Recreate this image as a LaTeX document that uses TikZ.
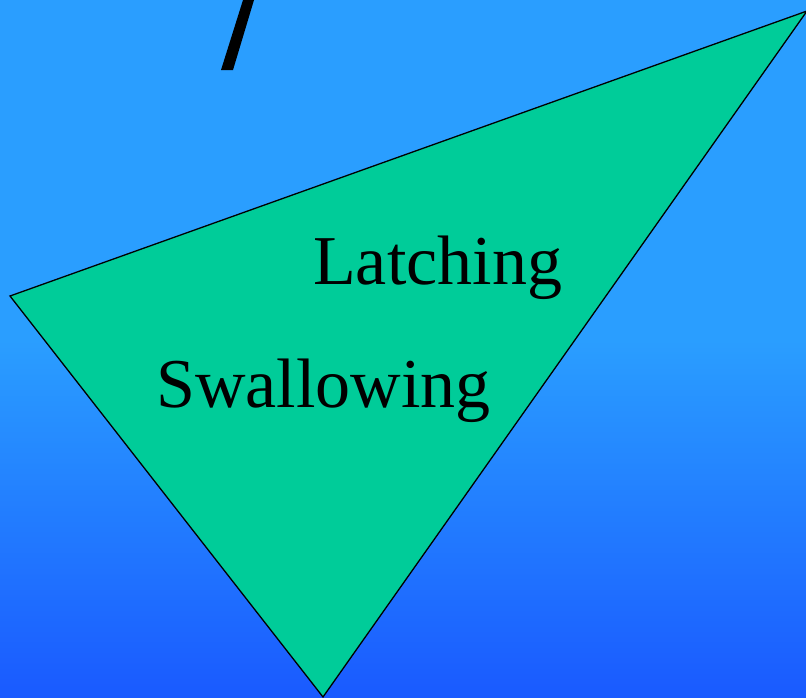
\documentclass[tikz,border=0pt]{standalone}
\usepackage{fontspec}
\setmainfont{Liberation Serif}
\usepackage{tikz}

\definecolor{skytop}{RGB}{42,158,255}
\definecolor{skybot}{RGB}{26,90,255}
\definecolor{leaf}{RGB}{0,204,153}

\begin{document}
\begin{tikzpicture}[x=1pt,y=-1pt]
  \coordinate (TL) at (0,0); \coordinate (BR) at (806,697);
  \coordinate (ML) at (0,340); \coordinate (MR) at (806,340);
  \useasboundingbox (TL) rectangle (BR);
  \fill[skytop] (TL) rectangle (MR);
  \shade[top color=skytop,bottom color=skybot] (ML) rectangle (BR);
  \fill (221,70) -- (233,70) -- (254,0) -- (243,0) -- cycle;
  \coordinate (P) at (10,296); \coordinate (Q) at (807,11); \coordinate (R) at (323,697);
  \filldraw[fill=leaf,draw=black,line width=1.3pt,line join=miter] (P) -- (Q) -- (R) -- cycle;
  \node[anchor=base west,inner sep=0pt,font=\fontsize{70}{80}\selectfont] (latch) at (313,284) {Latching};
  \node[anchor=base west,inner sep=0pt,font=\fontsize{70}{80}\selectfont] (swall) at (156,407) {Swallowing};
\end{tikzpicture}
\end{document}
